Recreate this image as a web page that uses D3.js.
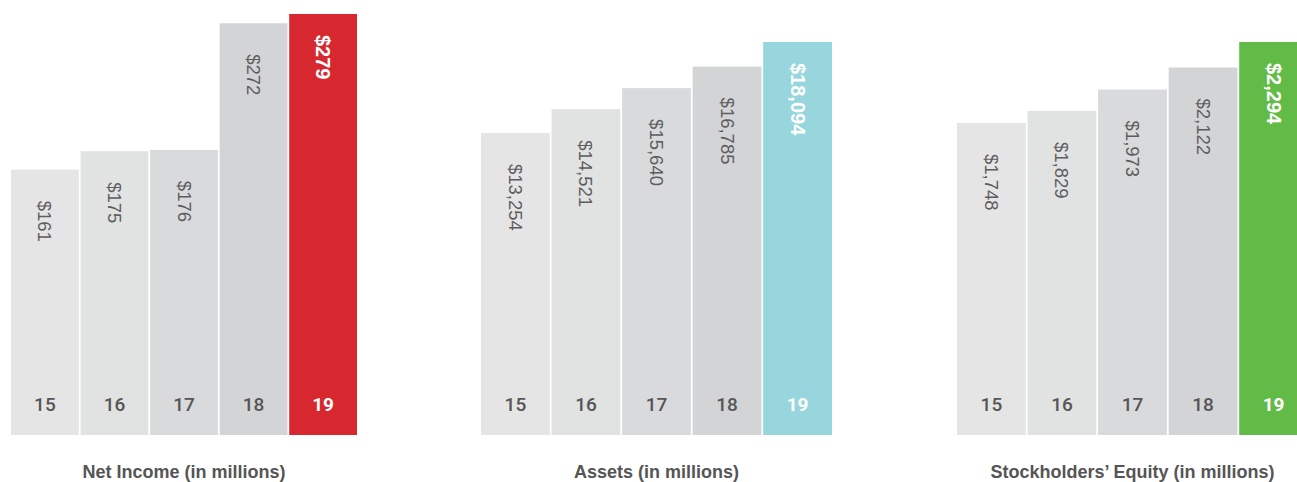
<!DOCTYPE html>
<html>
<head>
<meta charset="utf-8">
<script src="https://cdn.jsdelivr.net/npm/d3@7"></script>
<style>
  body { margin: 0; background: #fff; }
  svg { display: block; font-family: "Liberation Sans", Arial, sans-serif; }
</style>
</head>
<body>
<div class="charts"></div>
<script>
let years = ['15', '16', '17', '18', '19']
let netIncome = [161, 175, 176, 272, 279]
let assets = [13254, 14521, 15640, 16785, 18094]
let equity = [1748, 1829, 1973, 2122, 2294]
let titles = ['Net Income (in millions)', 'Assets (in millions)', 'Stockholders\u2019 Equity (in millions)']

let width = 1297
let height = 482
let bottom = 435

let greys = ['#e5e5e5', '#e1e2e2', '#d9dadc', '#d3d4d6']

let panels = [
  { data: netIncome, x0: 11, x1: 357, top: 14, accent: '#d7282f' },
  { data: assets, x0: 481, x1: 832, top: 42, accent: '#96d6dc' },
  { data: equity, x0: 957, x1: 1308, top: 42, accent: '#63bb47' }
]

let fmt = d3.format(',')

let svg = d3.select('.charts')
            .append('svg')
            .attr('width', width)
            .attr('height', height)

panels.forEach((p, k) => {
  let xScale = d3.scaleBand()
                 .domain(years)
                 .range([p.x0, p.x1])
                 .paddingInner(0.025)

  // zero sits ~52px above the bar base
  let yScale = d3.scaleLinear()
                 .domain([0, d3.max(p.data)])
                 .range([382, p.top])

  let g = svg.append('g')
  let last = years.length - 1

  g.selectAll('rect')
    .data(p.data)
    .enter()
    .append('rect')
    .attr('x', (d, i) => xScale(years[i]))
    .attr('width', xScale.bandwidth())
    .attr('y', d => yScale(d))
    .attr('height', d => bottom - yScale(d))
    .attr('fill', (d, i) => i == last ? p.accent : greys[i])

  // value labels, rotated to read top to bottom
  p.data.forEach((d, i) => {
    let cx = xScale(years[i]) + xScale.bandwidth() / 2
    let ty = yScale(d) + (i == last ? 21 : 31)
    g.append('text')
      .attr('transform', `translate(${cx},${ty}) rotate(90)`)
      .attr('dominant-baseline', 'central')
      .attr('fill', i == last ? '#fff' : '#5d5d5d')
      .attr('font-size', i == last ? 20 : 18.5)
      .attr('font-weight', i == last ? 'bold' : 'normal')
      .text('$' + fmt(d))
  })

  // year labels
  years.forEach((y, i) => {
    g.append('text')
      .attr('x', xScale(y) + xScale.bandwidth() / 2)
      .attr('y', 411)
      .attr('text-anchor', 'middle')
      .attr('fill', i == last ? '#fff' : '#555')
      .style('font-family', 'Roboto, sans-serif')
      .attr('font-size', 19)
      .attr('font-weight', i == last ? 'bold' : 500)
      .text(y)
  })

  g.append('text')
    .attr('x', (p.x0 + p.x1) / 2)
    .attr('y', 478)
    .attr('text-anchor', 'middle')
    .attr('fill', '#555')
    .attr('font-size', 18)
    .attr('font-weight', 'bold')
    .text(titles[k])
})
</script>
</body>
</html>
